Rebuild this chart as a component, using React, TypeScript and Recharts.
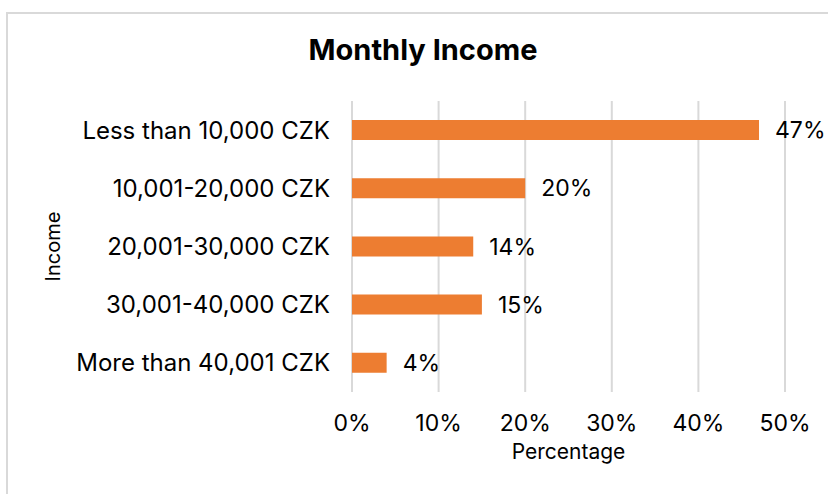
import { BarChart, Bar, XAxis, YAxis, CartesianGrid, LabelList } from "recharts";

const categories = [
  "Less than 10,000 CZK",
  "10,001-20,000 CZK",
  "20,001-30,000 CZK",
  "30,001-40,000 CZK",
  "More than 40,001 CZK",
];
const shares = [47, 20, 14, 15, 4];
const xTicks = [0, 10, 20, 30, 40, 50];

const data = categories.map((name, i) => ({ name, value: shares[i] }));

const font = "Inter, 'Noto Sans', sans-serif";
const pct = (v: number) => `${v}%`;

function IncomeLabel({ viewBox }: any) {
  const cx = 60;
  const cy = viewBox.y + viewBox.height / 2;
  return (
    <text
      x={cx}
      y={cy}
      transform={`rotate(-90 ${cx} ${cy})`}
      textAnchor="middle"
      fontSize={20}
      fontFamily={font}
      fill="#000"
    >
      Income
    </text>
  );
}

export default function App() {
  return (
    <div
      style={{
        position: "fixed",
        left: 0,
        top: 0,
        width: 828,
        height: 494,
        background: "#fff",
        overflow: "hidden",
        fontFamily: font,
      }}
    >
      <div
        style={{
          position: "absolute",
          left: 6,
          top: 12,
          width: 840,
          height: 500,
          border: "2px solid #d9d9d9",
        }}
      />
      <div
        style={{
          position: "absolute",
          left: 223,
          top: 35,
          width: 400,
          textAlign: "center",
          fontSize: 29,
          lineHeight: "29px",
          fontWeight: 700,
          color: "#000",
        }}
      >
        Monthly Income
      </div>
      <div style={{ position: "absolute", left: 0, top: 0 }}>
        <BarChart
          width={828}
          height={494}
          data={data}
          layout="vertical"
          margin={{ top: 101, right: 43, bottom: 35, left: 12 }}
        >
          <CartesianGrid horizontal={false} stroke="#d9d9d9" strokeWidth={2} />
          <XAxis
            type="number"
            domain={[0, 50]}
            ticks={xTicks}
            tickFormatter={pct}
            axisLine={false}
            tickLine={false}
            tickSize={0}
            tickMargin={23}
            height={67}
            tick={{ fontSize: 23, fill: "#000", fontFamily: font }}
            label={{
              value: "Percentage",
              position: "insideBottom",
              offset: 0,
              fontSize: 21,
              fill: "#000",
              fontFamily: font,
            }}
          />
          <YAxis
            type="category"
            dataKey="name"
            width={340}
            axisLine={false}
            tickLine={false}
            tickSize={0}
            tickMargin={22}
            tick={{ fontSize: 24, fill: "#000", fontFamily: font }}
            label={<IncomeLabel />}
          />
          <Bar dataKey="value" fill="#ED7D31" barSize={20} isAnimationActive={false}>
            <LabelList
              dataKey="value"
              position="right"
              offset={16}
              formatter={pct}
              style={{ fontSize: 23, fill: "#000", fontFamily: font }}
            />
          </Bar>
        </BarChart>
      </div>
    </div>
  );
}
